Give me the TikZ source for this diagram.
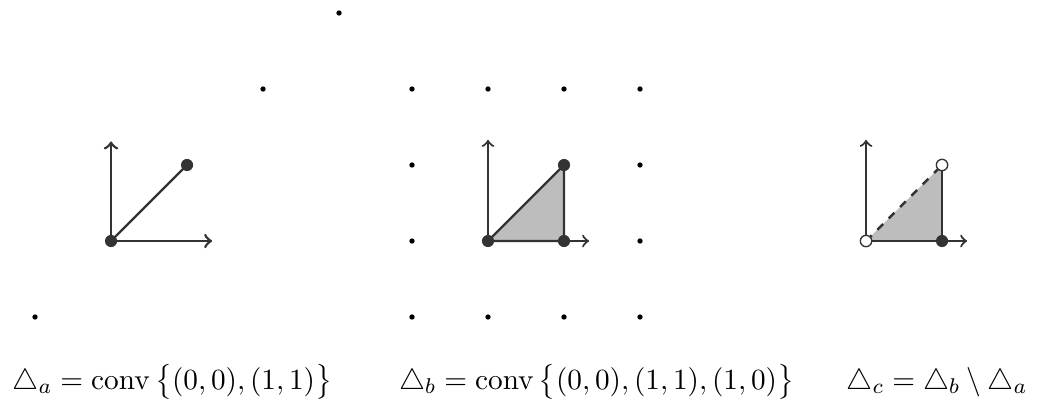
\documentclass[tikz,border=0pt]{standalone}
\usepackage{amsmath}
\definecolor{ink}{HTML}{333333}
\definecolor{fillgray}{HTML}{BDBDBD}
\tikzset{
  axis/.style={draw=ink,line width=0.8pt,->},
  edge/.style={draw=ink,line width=0.9pt},
  vtx/.style={circle,fill=ink,inner sep=0pt,minimum size=0.16cm},
  hollow/.style={circle,draw=ink,fill=white,line width=0.5pt,inner sep=0pt,minimum size=0.15cm},
  lat/.style={circle,fill=black,inner sep=0pt,minimum size=0.07cm},
  lbl/.style={anchor=base,inner sep=0pt,font=\fontsize{11.2}{14}\selectfont}
}
\begin{document}
\begin{tikzpicture}[x=1cm,y=1cm]
\useasboundingbox (0,0) rectangle (13.684,5.421);
% ---------- left picture ----------
\begin{scope}[shift={(1.461,2.25)}]
  \coordinate (aO) at (0,0);
  \coordinate (aX) at (1.33,0);
  \coordinate (aY) at (0,1.31);
  \draw[axis,line width=1pt] (aO) -- (aX);
  \draw[axis,line width=1pt] (aO) -- (aY);
  \node[vtx] (a00) at (0,0) {};
  \node[vtx] (a11) at (1,1) {};
  \draw[edge] (a00.center) -- (a11.center);
  \node[lat] (am1) at (-1,-1) {};
  \node[lat] (a22) at (2,2) {};
  \node[lat] (a33) at (3,3) {};
\end{scope}
% ---------- middle picture ----------
\begin{scope}[shift={(6.421,2.25)}]
  \coordinate (bO) at (0,0);
  \coordinate (bX) at (1.33,0);
  \coordinate (bY) at (0,1.33);
  \coordinate (b00) at (0,0);
  \coordinate (b10) at (1,0);
  \coordinate (b11) at (1,1);
  \fill[fillgray] (b00) -- (b10) -- (b11) -- cycle;
  \draw[axis] (bO) -- (bX);
  \draw[axis] (bO) -- (bY);
  \draw[edge] (b00) -- (b10) -- (b11) -- cycle;
  \node[vtx] (bv00) at (b00) {};
  \node[vtx] (bv10) at (b10) {};
  \node[vtx] (bv11) at (b11) {};
  \foreach \i in {-1,0,1,2}{
    \foreach \j in {-1,0,1,2}{
      \ifnum\i=0 \ifnum\j=0 \else\ifnum\j=1 \else \node[lat] (bl\i\j) at (\i,\j) {};\fi\fi
      \else\ifnum\i=1 \ifnum\j=0 \else\ifnum\j=1 \else \node[lat] (bl\i\j) at (\i,\j) {};\fi\fi
      \else \node[lat] (bl\i\j) at (\i,\j) {};\fi\fi
    }
  }
\end{scope}
% ---------- right picture ----------
\begin{scope}[shift={(11.395,2.25)}]
  \coordinate (cO) at (0,0);
  \coordinate (cX) at (1.33,0);
  \coordinate (cY) at (0,1.33);
  \coordinate (c00) at (0,0);
  \coordinate (c10) at (1,0);
  \coordinate (c11) at (1,1);
  \fill[fillgray] (c00) -- (c10) -- (c11) -- cycle;
  \draw[axis] (cO) -- (cX);
  \draw[axis] (cO) -- (cY);
  \draw[edge] (c00) -- (c10) -- (c11);
  \draw[edge,dashed] (c00) -- (c11);
  \node[hollow] (cv00) at (c00) {};
  \node[hollow] (cv11) at (c11) {};
  \node[vtx] (cv10) at (c10) {};
\end{scope}
% ---------- labels ----------
\node[lbl] (la) at (2.27,0.30) {$\triangle_a = \operatorname{conv}\,\bigl\{(0,0),(1,1)\bigr\}$};
\node[lbl] (lb) at (7.85,0.30) {$\triangle_b = \operatorname{conv}\,\bigl\{(0,0),(1,1),(1,0)\bigr\}$};
\node[lbl] (lc) at (12.33,0.30) {$\triangle_c = \triangle_b \setminus \triangle_a$};
\end{tikzpicture}
\end{document}
